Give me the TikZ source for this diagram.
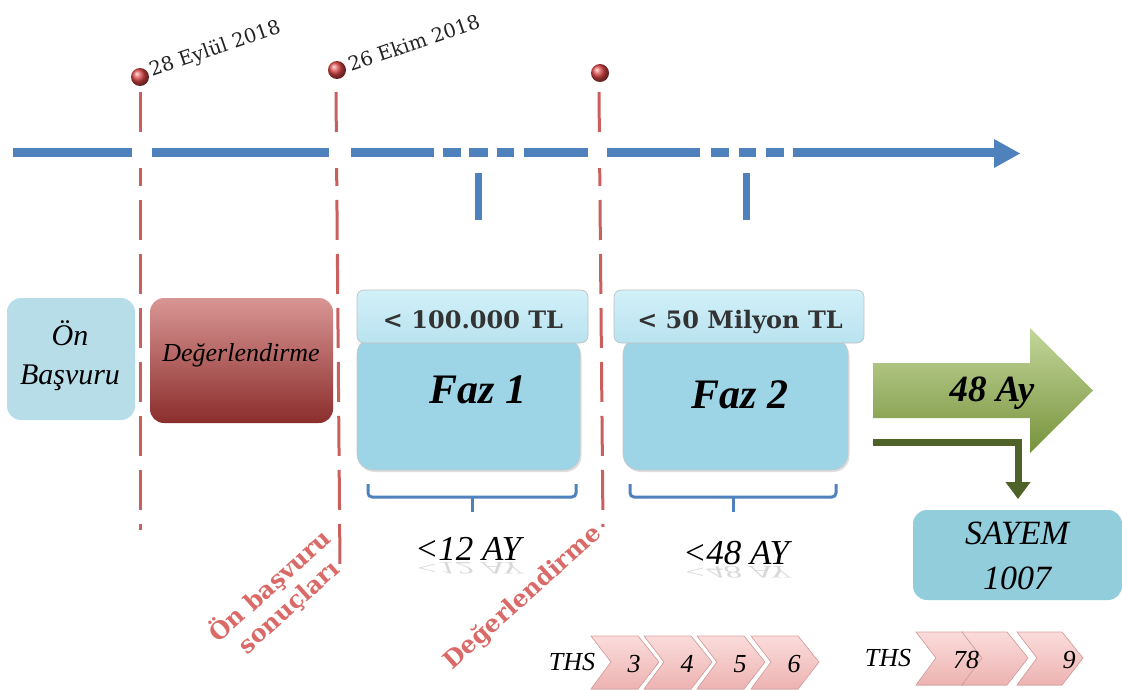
\documentclass[tikz,border=0pt]{standalone}
\usepackage{fontspec}
\setmainfont{Liberation Serif}
\newfontfamily\slab{DejaVu Serif}
\usetikzlibrary{arrows.meta,shadows}
\definecolor{tlblue}{HTML}{4F81BD}
\definecolor{tlred}{HTML}{C9605D}
\definecolor{redtxt}{HTML}{D96A67}
\definecolor{onbfill}{HTML}{B7DDE8}
\definecolor{hdrtop}{HTML}{D2F0F8}
\definecolor{hdrbot}{HTML}{B9E3F0}
\definecolor{mainfill}{HTML}{9ED5E6}
\definecolor{sayemfill}{HTML}{92CDDC}
\definecolor{redtop}{HTML}{D99694}
\definecolor{redbot}{HTML}{8A2E2C}
\definecolor{grtop}{HTML}{C3D69B}
\definecolor{grbot}{HTML}{77933C}
\definecolor{dkgreen}{HTML}{4F6228}
\definecolor{chevtop}{HTML}{FADCDB}
\definecolor{chevbot}{HTML}{EDB3B2}
\definecolor{chevedge}{HTML}{D9A3A2}
\definecolor{datetxt}{HTML}{222222}
\definecolor{dotred}{HTML}{DC4646}
\tikzset{
  reddash/.style={draw=tlred, line width=3pt, dash pattern=on 40pt off 14pt},
  blueseg/.style={draw=tlblue, line width=9pt},
  bluetick/.style={draw=tlblue, line width=7pt},
  bracestyle/.style={draw=tlblue, line width=3pt, rounded corners=4pt},
  box/.style={rounded corners=14pt, inner sep=0pt, align=center},
  hdrbox/.style={rounded corners=7pt, top color=hdrtop, bottom color=hdrbot, draw=black!25, line width=0.6pt, inner sep=0pt},
  mainbox/.style={rounded corners=16pt, fill=mainfill, draw=black!22, line width=0.6pt, inner sep=0pt, drop shadow={opacity=0.25, shadow xshift=1.5pt, shadow yshift=-2pt}},
  itx/.style={inner sep=0pt, align=center, font=\itshape},
  datelbl/.style={inner sep=0pt, anchor=base west, rotate=19, text=datetxt, font=\slab\fontsize{19.5}{22}\selectfont},
  redlbl/.style={inner sep=0pt, align=center, rotate=42, text=redtxt, font=\slab\bfseries\fontsize{24}{28}\selectfont},
  hdrtxt/.style={inner sep=0pt, text=black!80, font=\slab\bfseries\fontsize{24}{28}\selectfont},
  faztxt/.style={inner sep=0pt, font=\bfseries\itshape\fontsize{42}{46}\selectfont},
  chev/.style={top color=chevtop, bottom color=chevbot, draw=chevedge, line width=0.6pt},
  chevtxt/.style={inner sep=0pt, font=\itshape\fontsize{26}{30}\selectfont},
  ayt/.style={inner sep=0pt, font=\itshape\fontsize{35}{38}\selectfont},
  refl/.style={inner sep=0pt, font=\itshape\fontsize{35}{38}\selectfont, yscale=-0.5, transform shape, opacity=0.15},
  dot/.style={circle, inner sep=0pt, minimum size=18pt, ball color=dotred, draw=none}
}
\begin{document}
\begin{tikzpicture}[x=1pt,y=-1pt]
\useasboundingbox (0,0) rectangle (1122,690);

% red dashed vertical lines
\coordinate (r1t) at (140,92);  \coordinate (r1b) at (140,530);
\coordinate (r2t) at (336,92);  \coordinate (r2b) at (340,567);
\coordinate (r3t) at (599,92);  \coordinate (r3b) at (603,527);
\draw[reddash] (r1t) -- (r1b);
\draw[reddash] (r2t) -- (r2b);
\draw[reddash] (r3t) -- (r3b);
\fill[white] (133,143) rectangle (151,168);
\fill[white] (330,143) rectangle (350,168);
\fill[white] (590,143) rectangle (606,168);

% dots and dates
\node[dot] (d1) at (140,77) {};
\node[dot] (d2) at (337,70) {};
\node[dot] (d3) at (600,73) {};
\node[datelbl] (date1) at (152,77) {28 Eylül 2018};
\node[datelbl] (date2) at (351,72) {26 Ekim 2018};

% blue timeline
\foreach \a/\b in {13/132,152/329,351/434,443/461,469/488,497/514,524/588,607/700,711/729,739/756,766/784,793/996}
  \draw[blueseg] (\a,153) -- (\b,153);
\fill[tlblue] (994,139) -- (1020,153.5) -- (994,168) -- cycle;
\draw[bluetick] (478,173) -- (478,220);
\draw[bluetick] (746,173) -- (746,220);

% left boxes
\node[box, fill=onbfill, minimum width=128pt, minimum height=122pt] (onb) at (71,359) {};
\node[itx, font=\itshape\fontsize{30}{39}\selectfont] (onbt) at (70,356) {Ön\\Başvuru};
\node[box, top color=redtop, bottom color=redbot, minimum width=183pt, minimum height=125pt] (deg) at (241.5,360.5) {};
\node[itx, font=\itshape\fontsize{26}{30}\selectfont] (degt) at (241,355) {Değerlendirme};

% Faz 1
\node[mainbox, minimum width=223pt, minimum height=132pt] (faz1) at (468.5,404) {};
\node[hdrbox, minimum width=231pt, minimum height=53pt] (hdr1) at (472.5,316.5) {};
\node[hdrtxt] (hdr1t) at (473,320) {< 100.000 TL};
\node[faztxt] (faz1t) at (478,390) {Faz 1};

% Faz 2
\node[mainbox, minimum width=225pt, minimum height=132pt] (faz2) at (735.5,404) {};
\node[hdrbox, minimum width=250pt, minimum height=53pt] (hdr2) at (739,316.5) {};
\node[hdrtxt] (hdr2t) at (740,322) {< 50 Milyon TL};
\node[faztxt] (faz2t) at (740,395) {Faz 2};

% braces
\draw[bracestyle] (368,484) -- (368,497) -- (576,497) -- (576,484);
\draw[bracestyle] (472,496) -- (472,512);
\draw[bracestyle] (630,484) -- (630,497) -- (836,497) -- (836,484);
\draw[bracestyle] (733,496) -- (733,512);

\node[ayt] (ay12) at (468,549) {<12 AY};
\node[refl] (ay12r) at (468,568) {<12 AY};
\node[ayt] (ay48) at (736,553) {<48 AY};
\node[refl] (ay48r) at (736,572) {<48 AY};

% red rotated labels
\node[redlbl] (onbs) at (279,596) {Ön başvuru\\sonuçları};
\node[redlbl] (degr) at (523,598) {Değerlendirme};

% green arrow
\shade[top color=grtop, bottom color=grbot] (873,363) -- (1030,363) -- (1030,328) -- (1093,390.5) -- (1030,453) -- (1030,418) -- (873,418) -- cycle;
\node[faztxt, font=\bfseries\itshape\fontsize{37}{40}\selectfont] (ay48g) at (992,393) {48 Ay};

% SAYEM
\node[box, fill=sayemfill, minimum width=209pt, minimum height=90pt] (sayem) at (1017.5,555) {};
\node[itx, font=\itshape\fontsize{34}{45}\selectfont] (sayemt) at (1017,556) {SAYEM\\1007};
\coordinate (bs) at (873,442);
\coordinate (be) at (1018,499);
\draw[dkgreen, line width=7pt, -{Triangle[width=24pt,length=17pt]}] (bs) -| (be);

% chevrons set 1
\node[chevtxt] (ths1) at (572,662) {THS};
\foreach \L/\n in {591/3,644/4,697/5,751/6}{
  \filldraw[chev] (\L,636) -- (\L+47,636) -- (\L+68,662) -- (\L+47,689) -- (\L,689) -- (\L+20,662) -- cycle;
  \node[chevtxt] at (\L+43,664) {\n};
}
% chevrons set 2
\node[chevtxt] (ths2) at (888,658) {THS};
\foreach \L/\w in {916/68,962/66,1017/66}{
  \filldraw[chev] (\L,632) -- (\L+\w-21,632) -- (\L+\w,658) -- (\L+\w-21,685) -- (\L,685) -- (\L+20,658) -- cycle;
}
\node[chevtxt] (n78) at (966,660) {78};
\node[chevtxt] (n9) at (1069,660) {9};
\end{tikzpicture}
\end{document}
